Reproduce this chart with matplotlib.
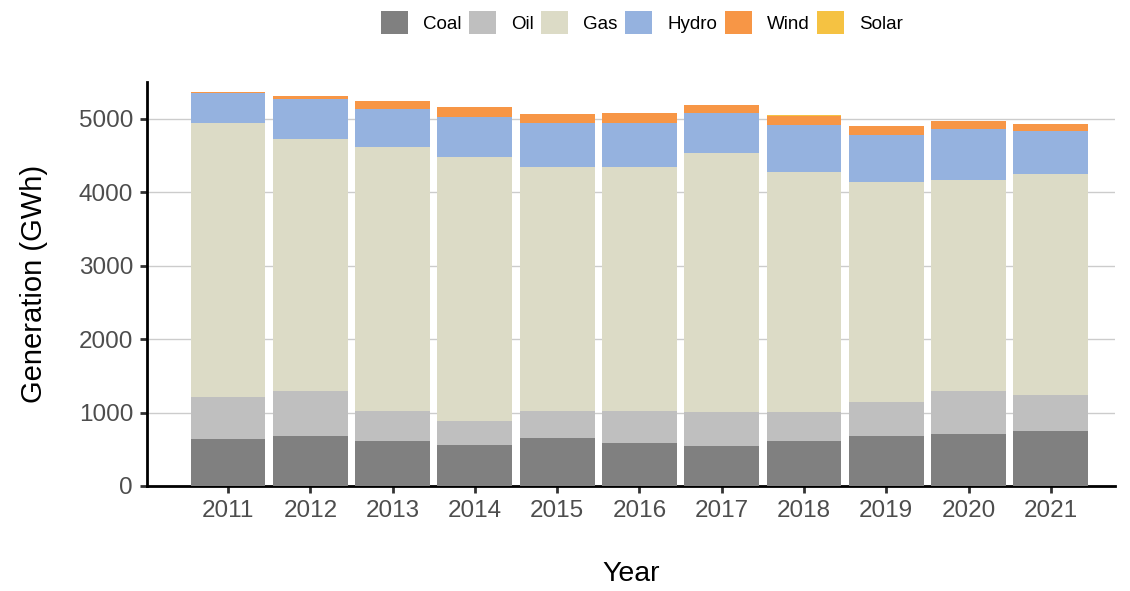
import matplotlib
matplotlib.use("Agg")
import matplotlib.pyplot as plt
import numpy as np

plt.rcParams['font.family'] = ['Liberation Sans', 'DejaVu Sans']

years = [2011, 2012, 2013, 2014, 2015, 2016, 2017, 2018, 2019, 2020, 2021]
coal = [640, 681, 613, 559, 654, 586, 545, 613, 681, 708, 749]
oil = [573, 613, 409, 327, 368, 436, 463, 395, 463, 586, 491]
gas = [3733, 3434, 3597, 3596, 3324, 3324, 3529, 3270, 2995, 2872, 3008]
hydro = [399, 544, 509, 545, 590, 600, 535, 631, 643, 698, 579]
wind = [13, 41, 117, 136, 132, 136, 119, 123, 123, 109, 105]
solar = [0, 0, 0, 0, 0, 0, 0, 13, 0, 0, 0]

series = [("Coal", coal, "#808080"), ("Oil", oil, "#bfbfbf"), ("Gas", gas, "#dcdbc6"),
          ("Hydro", hydro, "#95b2df"), ("Wind", wind, "#f79646"), ("Solar", solar, "#f5c242")]

fig = plt.figure(figsize=(11.3, 5.91), dpi=100)
ax = fig.add_axes([147/1130, 1 - 486/591, (1115-147)/1130, (486-82)/591])

bottom = np.zeros(len(years))
handles = []
for name, vals, col in series:
    b = ax.bar(years, vals, bottom=bottom, width=0.91, color=col, label=name, zorder=3, linewidth=0)
    handles.append(b)
    bottom += np.array(vals, dtype=float)

ax.set_xlim(2011 - 0.985, 2021 + 0.78)
ax.set_ylim(0, 5500)
ax.set_yticks([0, 1000, 2000, 3000, 4000, 5000])
ax.set_xticks(years)
ax.yaxis.grid(True, color="#cccccc", linewidth=1, zorder=0)
ax.set_axisbelow(True)
for s in ["top", "right"]:
    ax.spines[s].set_visible(False)
for s in ["left", "bottom"]:
    ax.spines[s].set_linewidth(2)
    ax.spines[s].set_color("black")
ax.tick_params(axis="both", labelsize=17.5, labelcolor="#4d4d4d", color="#333333",
               length=5, width=2, pad=5)
ax.set_xlabel("Year", fontsize=20.5, labelpad=28, color="black")
ax.set_ylabel("Generation (GWh)", fontsize=21, labelpad=22, color="black")

fig.legend(handles=handles, labels=[s[0] for s in series], loc="center", ncol=6,
           bbox_to_anchor=(0.568, 0.962), frameon=False, fontsize=13.5,
           handlelength=1.44, handleheight=1.44, handletextpad=0.8, columnspacing=0.4)

fig.savefig("out.png", dpi=100)
